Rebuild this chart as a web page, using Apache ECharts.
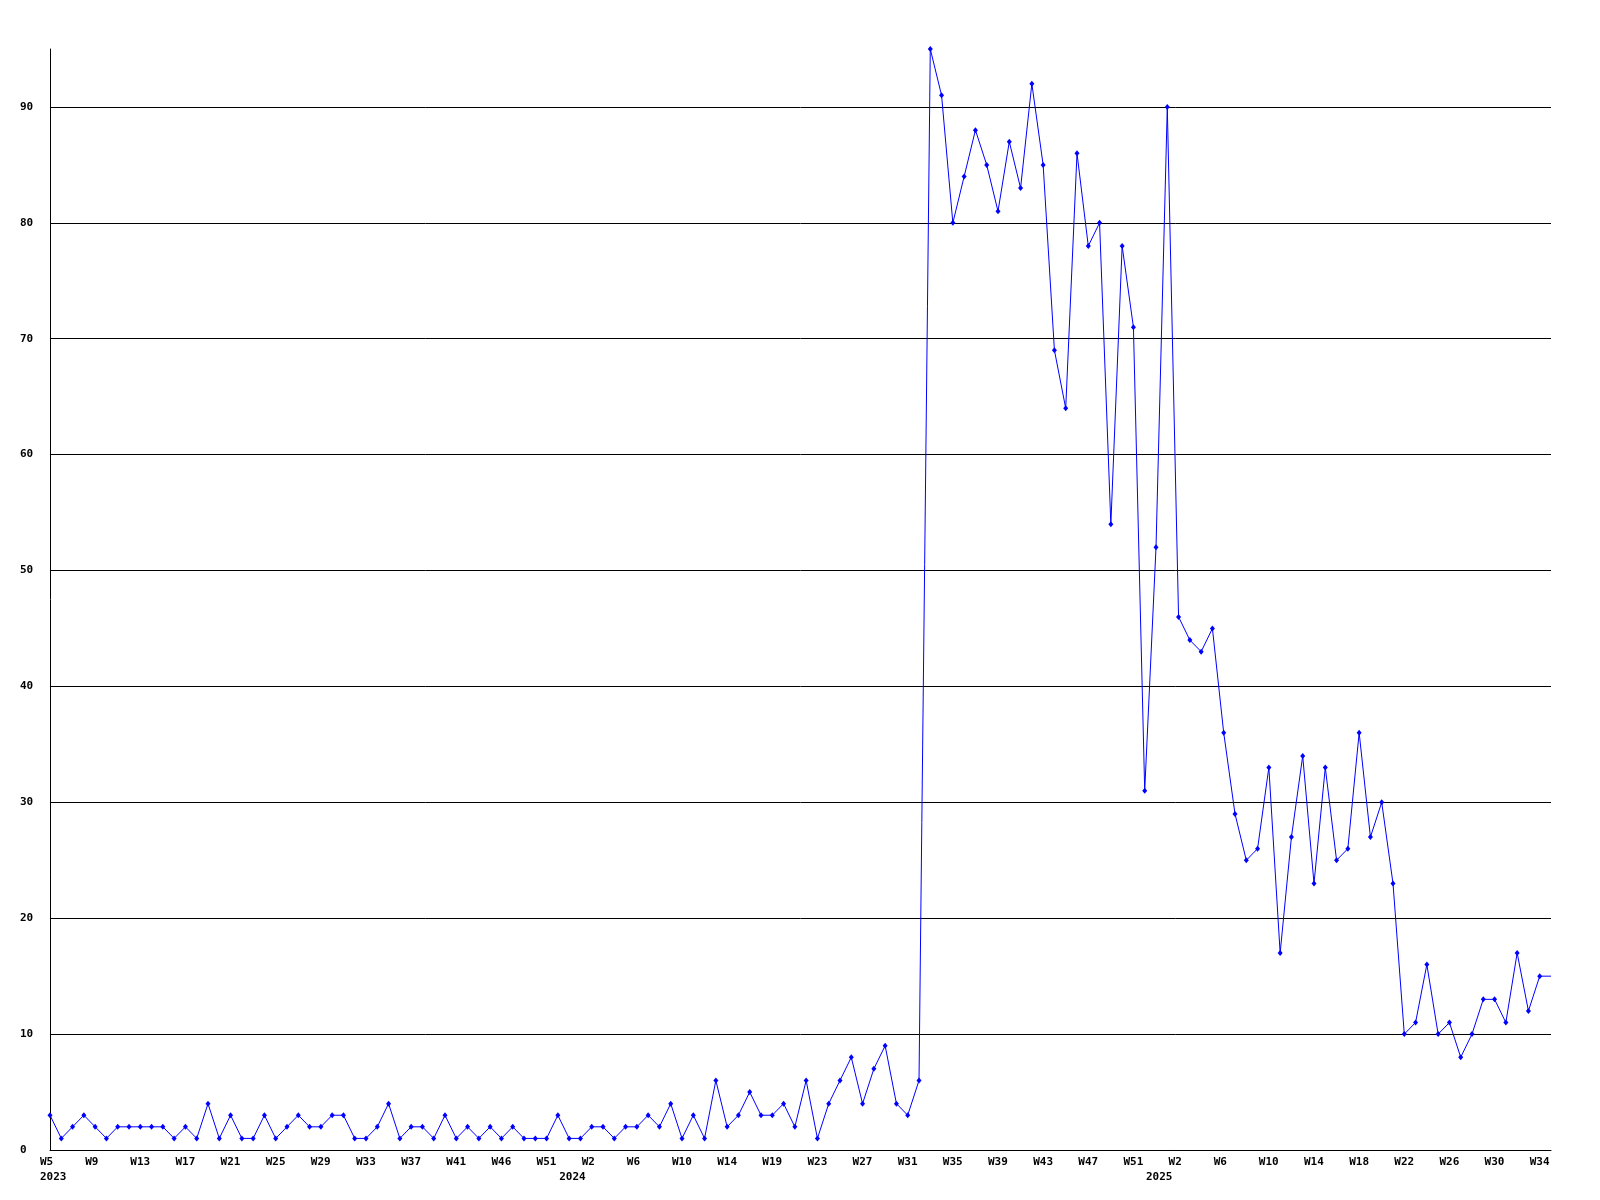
<!DOCTYPE html>
<html>
<head>
<meta charset="utf-8">
<script src="https://cdn.jsdelivr.net/npm/echarts@6/dist/echarts.min.js"></script>
<style>
  html, body { margin: 0; padding: 0; background: #ffffff; }
  #chart { width: 1600px; height: 1200px; }
</style>
</head>
<body>
<div id="chart"></div>
<script>
// Weekly categories (year-week), as labelled on the original axis
const weeks2023 = ['2023-W5','2023-W6','2023-W7','2023-W8','2023-W9','2023-W10','2023-W11','2023-W12','2023-W13','2023-W14',
  '2023-W15','2023-W16','2023-W17','2023-W18','2023-W19','2023-W20','2023-W21','2023-W22','2023-W23','2023-W24',
  '2023-W25','2023-W26','2023-W27','2023-W28','2023-W29','2023-W30','2023-W31','2023-W32','2023-W33','2023-W34',
  '2023-W35','2023-W36','2023-W37','2023-W38','2023-W39','2023-W40','2023-W41','2023-W42','2023-W43','2023-W44',
  '2023-W46','2023-W47','2023-W48','2023-W49','2023-W51','2023-W52'];
const weeks2024 = ['2024-W0','2024-W1','2024-W2','2024-W3','2024-W4','2024-W5','2024-W6','2024-W7','2024-W8','2024-W9',
  '2024-W10','2024-W11','2024-W12','2024-W13','2024-W14','2024-W15','2024-W16','2024-W17','2024-W19','2024-W20',
  '2024-W21','2024-W22','2024-W23','2024-W24','2024-W25','2024-W26','2024-W27','2024-W28','2024-W29','2024-W30',
  '2024-W31','2024-W32','2024-W33','2024-W34','2024-W35','2024-W36','2024-W37','2024-W38','2024-W39','2024-W40',
  '2024-W41','2024-W42','2024-W43','2024-W44','2024-W45','2024-W46','2024-W47','2024-W48','2024-W49','2024-W50',
  '2024-W51','2024-W52'];
const weeks2025 = ['2025-W0','2025-W1','2025-W2','2025-W3','2025-W4','2025-W5','2025-W6','2025-W7','2025-W8','2025-W9',
  '2025-W10','2025-W11','2025-W12','2025-W13','2025-W14','2025-W15','2025-W16','2025-W17','2025-W18','2025-W19',
  '2025-W20','2025-W21','2025-W22','2025-W23','2025-W24','2025-W25','2025-W26','2025-W27','2025-W28','2025-W29',
  '2025-W30','2025-W31','2025-W32','2025-W33','2025-W34','2025-W35'];

// Weekly values
const values2023 = [3,1,2,3,2,1,2,2,2,2, 2,1,2,1,4,1,3,1,1,3, 1,2,3,2,2,3,3,1,1,2,
  4,1,2,2,1,3,1,2,1,2, 1,2,1,1,1,3];
const values2024 = [1,1,2,2,1,2,2,3,2,4, 1,3,1,6,2,3,5,3,3,4, 2,6,1,4,6,8,4,7,9,4,
  3,6,95,91,80,84,88,85,81,87, 83,92,85,69,64,86,78,80,54,78, 71,31];
const values2025 = [52,90,46,44,43,45,36,29,25,26, 33,17,27,34,23,33,25,26,36,27,
  30,23,10,11,16,10,11,8,10,13, 13,11,17,12,15,15];

// Y-axis scale
const yMin = 0, yMax = 95, yStep = 10;

const categories = weeks2023.concat(weeks2024, weeks2025);
const values = values2023.concat(values2024, values2025);

function yearOf(i) { return categories[i].split('-')[0]; }
function weekOf(i) { return categories[i].split('-')[1]; }
function isYearStart(i) { return i === 0 || yearOf(i) !== yearOf(i - 1); }

const seriesData = values.map((v, i) => i === values.length - 1 ? { value: v, symbol: 'none' } : v);

const FONT = '"DejaVu Sans Mono", "Liberation Mono", monospace';

const chart = echarts.init(document.getElementById('chart'), null, { renderer: 'canvas' });
chart.setOption({
  animation: false,
  backgroundColor: '#ffffff',
  grid: { left: 50, right: 49, top: 49, bottom: 50, containLabel: false },
  xAxis: {
    type: 'category',
    data: categories,
    boundaryGap: false,
    axisLine: { show: true, lineStyle: { color: '#000000', width: 1 } },
    axisTick: { show: false },
    splitLine: { show: false },
    axisLabel: {
      interval: function (i) { return i % 4 === 0 || isYearStart(i); },
      formatter: function (val, i) {
        const w = (i % 4 === 0) ? weekOf(i) : '';
        return isYearStart(i) ? (w + '\n' + yearOf(i)) : w;
      },
      align: 'left',
      padding: [0, 0, 0, -10],
      margin: 5,
      color: '#000000',
      fontFamily: FONT,
      fontWeight: 'bold',
      fontSize: 11,
      lineHeight: 15
    }
  },
  yAxis: {
    type: 'value',
    min: yMin,
    max: yMax,
    interval: yStep,
    axisLine: { show: true, lineStyle: { color: '#000000', width: 1 } },
    axisTick: { show: false },
    splitLine: { show: true, showMaxLine: false, lineStyle: { color: '#000000', width: 1 } },
    axisLabel: {
      showMaxLabel: false,
      align: 'left',
      margin: 30,
      color: '#000000',
      fontFamily: FONT,
      fontWeight: 'bold',
      fontSize: 11
    }
  },
  series: [{
    type: 'line',
    data: seriesData,
    symbol: 'diamond',
    symbolSize: [5, 6],
    showAllSymbol: true,
    lineStyle: { color: '#0000ff', width: 1 },
    itemStyle: { color: '#0000ff' },
    clip: false
  }]
});
</script>
</body>
</html>
